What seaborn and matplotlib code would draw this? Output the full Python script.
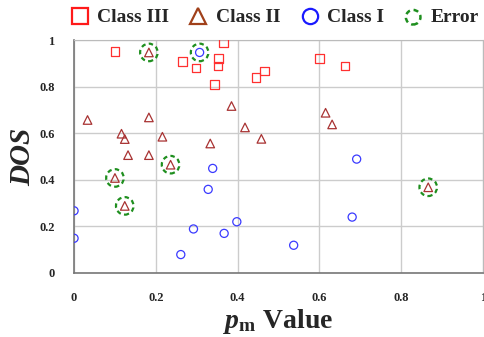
import matplotlib
matplotlib.use("Agg")
import matplotlib.pyplot as plt
from matplotlib.lines import Line2D
import seaborn as sns

sns.set_style("whitegrid")
plt.rcParams['font.family'] = ['Liberation Serif', 'DejaVu Serif']
plt.rcParams['font.weight'] = 'bold'
plt.rcParams['mathtext.fontset'] = 'custom'
plt.rcParams['mathtext.rm'] = 'Liberation Serif:bold'
plt.rcParams['mathtext.it'] = 'Liberation Serif:italic:bold'

# Class III (squares)
c3_pm = [0.10, 0.265, 0.298, 0.353, 0.352, 0.365, 0.344, 0.445, 0.466, 0.60, 0.663]
c3_dos = [0.95, 0.908, 0.88, 0.92, 0.888, 0.987, 0.81, 0.84, 0.868, 0.92, 0.888]

# Class II (triangles)
c2_pm = [0.033, 0.183, 0.385, 0.116, 0.124, 0.216, 0.333, 0.418, 0.458, 0.615, 0.631,
         0.132, 0.183, 0.236, 0.10, 0.866, 0.124, 0.183]
c2_dos = [0.657, 0.668, 0.717, 0.598, 0.575, 0.585, 0.556, 0.625, 0.576, 0.688, 0.638,
          0.506, 0.506, 0.465, 0.408, 0.368, 0.288, 0.947]

# Class I (circles)
c1_pm = [0.307, 0.339, 0.691, 0.328, 0.0, 0.0, 0.292, 0.398, 0.367, 0.261, 0.537, 0.68]
c1_dos = [0.947, 0.449, 0.489, 0.359, 0.267, 0.149, 0.189, 0.22, 0.17, 0.079, 0.119, 0.24]

# Misclassified points
err_pm = [0.183, 0.307, 0.236, 0.10, 0.124, 0.866]
err_dos = [0.947, 0.947, 0.465, 0.408, 0.288, 0.368]

red = "#ff3030"
brown = "#a83232"
blue = "#3a3aff"
green = "#1f8f1f"

fig = plt.figure(figsize=(4.84, 3.37), dpi=100)
ax = fig.add_axes([0.153, 0.19, 0.845, 0.691])

sns.scatterplot(x=c3_pm, y=c3_dos, ax=ax, marker="s", s=38, facecolors="none",
                edgecolors=red, linewidth=0.9, zorder=3)
sns.scatterplot(x=c2_pm, y=c2_dos, ax=ax, marker="^", s=38, facecolors="none",
                edgecolors=brown, linewidth=0.9, zorder=3)
sns.scatterplot(x=c1_pm, y=c1_dos, ax=ax, marker="o", s=34, facecolors="none",
                edgecolors=blue, linewidth=0.9, zorder=3)
sns.scatterplot(x=err_pm, y=err_dos, ax=ax, marker="o", s=160, facecolors="none",
                edgecolors=green, linewidth=1.6, linestyle=(0, (2, 1.5)), zorder=4)

ax.set_xlim(0, 1)
ax.set_ylim(0, 1)
ax.set_xticks([0, 0.2, 0.4, 0.6, 0.8, 1])
ax.set_xticklabels(["0", "0.2", "0.4", "0.6", "0.8", "1"])
ax.set_yticks([0, 0.2, 0.4, 0.6, 0.8, 1])
ax.set_yticklabels(["0", "0.2", "0.4", "0.6", "0.8", "1"])
ax.grid(True, color="#cccccc", linewidth=1)
for side in ["top", "right"]:
    ax.spines[side].set_color("#bbbbbb")
for side in ["left", "bottom"]:
    ax.spines[side].set_color("#777777")
    ax.spines[side].set_linewidth(1.2)
ax.tick_params(axis="both", direction="in", length=4, width=1, color="#555555",
               labelsize=9)
ax.tick_params(axis="x", pad=14)
ax.tick_params(axis="y", pad=14)
for lbl in ax.get_xticklabels() + ax.get_yticklabels():
    lbl.set_fontweight("bold")

ax.set_xlabel(r"$p_{\mathrm{m}}$ Value", fontsize=20, fontweight="bold", labelpad=2)
ax.set_ylabel("DOS", fontsize=21, fontweight="bold", style="italic", labelpad=2)

err_handle = ax.scatter([], [], marker="o", s=110, facecolors="none",
                        edgecolors=green, linewidths=1.8, linestyle=(0, (2, 1.5)))
handles = [
    Line2D([], [], marker="s", ls="none", mfc="none", mec="#ff1a1a", ms=11, mew=1.6),
    Line2D([], [], marker="^", ls="none", mfc="none", mec="#a0401a", ms=11, mew=1.6),
    Line2D([], [], marker="o", ls="none", mfc="none", mec="#1a1aff", ms=11, mew=1.6),
    err_handle,
]
fig.legend(handles, ["Class III", "Class II", "Class I", "Error"], ncol=4,
           loc="center", bbox_to_anchor=(0.565, 0.948), frameon=False,
           prop={"family": "Liberation Serif", "weight": "bold", "size": 14},
           handletextpad=0.3, columnspacing=0.9, handlelength=1.2, scatterpoints=1)

fig.savefig("out.png", dpi=100)
